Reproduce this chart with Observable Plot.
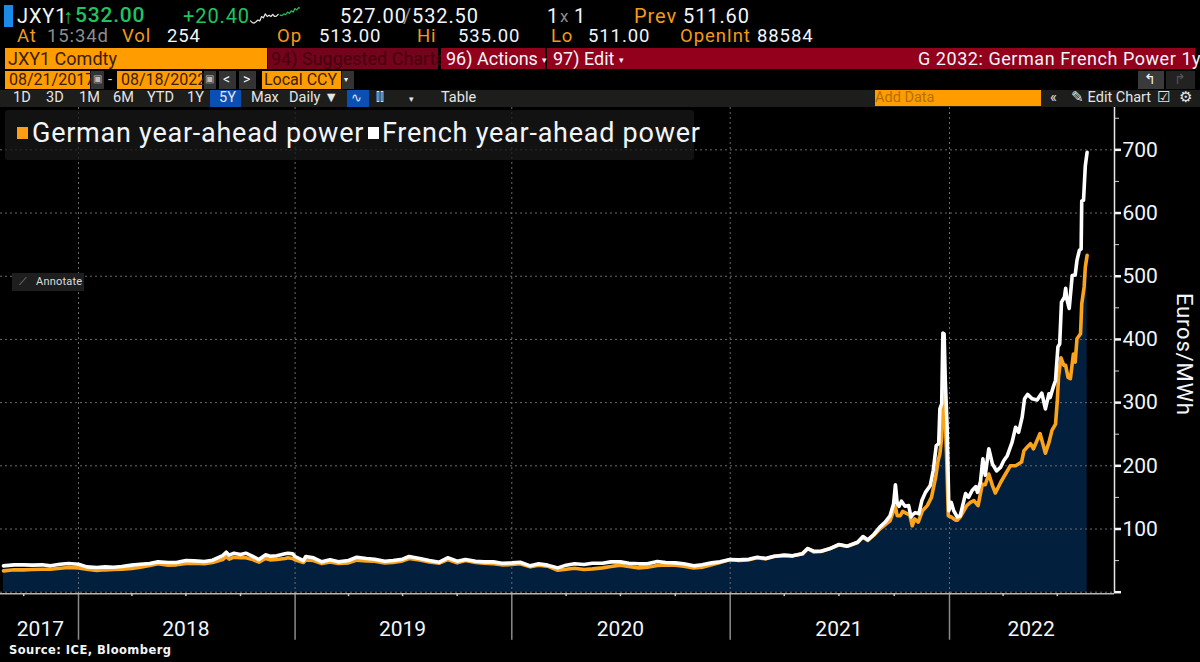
<!DOCTYPE html>
<html>
<head>
<meta charset="utf-8">
<script src="https://cdn.jsdelivr.net/npm/d3@7"></script>
<script src="https://cdn.jsdelivr.net/npm/@observablehq/plot@0.6"></script>
<style>
html,body{margin:0;padding:0;background:#000;width:1200px;height:662px;overflow:hidden}
#page{position:relative;width:1200px;height:662px;font-family:Roboto,"Noto Sans",sans-serif;color:#f2f6fa;overflow:hidden}
#chart{position:absolute;left:0;top:107px}
#chart svg{display:block}
.t{position:absolute;white-space:nowrap;line-height:1}
.r1{top:6px;font-size:20px;letter-spacing:.9px}.r2{top:27px;font-size:18.5px;letter-spacing:.9px}
.o{color:#f39a1a}.g{color:#1fc45f}.d{color:#8c8c8c}
.b{position:absolute}
.red{background:#93001c}
.or{background:#ff9d00;color:#3a2000}
.tab{position:absolute;top:91px;font-size:14.5px;color:#e6e6e6;line-height:1;white-space:nowrap}
</style>
</head>
<body>
<div id="page">
<div id="chart"></div>

<div class="b" style="left:4px;top:5px;width:9px;height:22px;background:#1a8be8"></div>
<span class="t r1" style="left:17px">JXY1</span>
<span class="t r1 g" style="left:63px">↑</span>
<span class="t g" style="left:75px;top:5px;font-size:21px;font-weight:500;letter-spacing:.8px">532.00</span>
<span class="t r1 g" style="left:183px">+20.40</span>
<div id="spark" style="position:absolute;left:250px;top:5px"></div>
<span class="t r1" style="left:340px">527.00</span>
<span class="t r1 d" style="left:403px">/</span>
<span class="t r1" style="left:412px">532.50</span>
<span class="t r1" style="left:547px">1</span>
<span class="t r1 d" style="left:560px;font-size:17px;top:8px">x</span>
<span class="t r1" style="left:574px">1</span>
<span class="t r1 o" style="left:634px">Prev</span>
<span class="t r1" style="left:683px">511.60</span>

<span class="t r2 o" style="left:17px">At</span>
<span class="t r2 d" style="left:47px">15:34d</span>
<span class="t r2 o" style="left:122px">Vol</span>
<span class="t r2" style="left:167px">254</span>
<span class="t r2 o" style="left:277px">Op</span>
<span class="t r2" style="left:319px">513.00</span>
<span class="t r2 o" style="left:417px">Hi</span>
<span class="t r2" style="left:458px">535.00</span>
<span class="t r2 o" style="left:551px">Lo</span>
<span class="t r2" style="left:588px">511.00</span>
<span class="t r2 o" style="left:680px">OpenInt</span>
<span class="t r2" style="left:757px">88584</span>

<div class="b or" style="left:5px;top:48px;width:262px;height:21px"></div>
<span class="t" style="left:8px;top:50px;font-size:18px;color:#3a2000">JXY1 Comdty</span>
<div class="b" style="left:268px;top:48px;width:170px;height:21px;background:#74041c"></div>
<span class="t" style="left:271px;top:50px;font-size:18px;color:#47000f">94) Suggested Charts</span>
<div class="b red" style="left:441px;top:48px;width:104px;height:21px"></div>
<span class="t" style="left:446px;top:50px;font-size:18px">96) Actions <span style="font-size:9px;vertical-align:2px">▾</span></span>
<div class="b red" style="left:547px;top:48px;width:648px;height:21px"></div>
<span class="t" style="left:553px;top:50px;font-size:18px">97) Edit <span style="font-size:9px;vertical-align:2px">▾</span></span>
<span class="t" style="left:918px;top:50px;font-size:18px;letter-spacing:.55px">G 2032: German French Power 1y</span>

<div class="b or" style="left:5px;top:71px;width:85px;height:18px"></div>
<span class="t" style="left:9px;top:72px;font-size:16px;color:#3a2000">08/21/2017</span>
<div class="b" style="left:91px;top:71px;width:13px;height:18px;background:#333"></div>
<span class="t" style="left:93px;top:74px;font-size:10px;color:#bbb">▣</span>
<span class="t" style="left:108px;top:72px;font-size:15px;color:#ddd">-</span>
<div class="b or" style="left:117px;top:71px;width:85px;height:18px"></div>
<span class="t" style="left:121px;top:72px;font-size:16px;color:#3a2000">08/18/2022</span>
<div class="b" style="left:204px;top:71px;width:12px;height:18px;background:#333"></div>
<span class="t" style="left:205px;top:74px;font-size:10px;color:#bbb">▣</span>
<div class="b" style="left:219px;top:71px;width:17px;height:18px;background:#333"></div>
<span class="t" style="left:223px;top:72px;font-size:14px">&lt;</span>
<div class="b" style="left:239px;top:71px;width:17px;height:18px;background:#333"></div>
<span class="t" style="left:243px;top:72px;font-size:14px">&gt;</span>
<div class="b or" style="left:262px;top:71px;width:79px;height:18px"></div>
<span class="t" style="left:264px;top:72px;font-size:16px;color:#3a2000">Local CCY</span>
<div class="b" style="left:342px;top:71px;width:12px;height:18px;background:#333"></div>
<span class="t" style="left:344px;top:76px;font-size:8px">▾</span>
<div class="b" style="left:1138px;top:71px;width:26px;height:18px;background:#3a3a3a"></div>
<span class="t" style="left:1144px;top:72px;font-size:14px">↰</span>
<div class="b" style="left:1166px;top:71px;width:29px;height:18px;background:#222"></div>
<span class="t" style="left:1174px;top:72px;font-size:14px;color:#555">↱</span>

<div class="b" style="left:0;top:90px;width:1200px;height:17px;background:#1d1d1b"></div>
<div class="b" style="left:210px;top:90px;width:31px;height:17px;background:#0a50b4"></div>
<div class="b" style="left:347px;top:90px;width:22px;height:17px;background:#0a50b4"></div>
<span class="tab" style="left:13px">1D</span>
<span class="tab" style="left:46px">3D</span>
<span class="tab" style="left:79px">1M</span>
<span class="tab" style="left:113px">6M</span>
<span class="tab" style="left:147px">YTD</span>
<span class="tab" style="left:187px">1Y</span>
<span class="tab" style="left:219px">5Y</span>
<span class="tab" style="left:251px">Max</span>
<span class="tab" style="left:289px">Daily ▼</span>
<span class="tab" style="left:351px;font-size:13px">∿</span>
<span class="tab" style="left:376px;font-size:12px">⫿⫿</span>
<span class="tab" style="left:409px;font-size:9px;top:95px">▾</span>
<span class="tab" style="left:441px">Table</span>
<div class="b or" style="left:875px;top:90px;width:166px;height:16px"></div>
<span class="tab" style="left:875px;color:#b36f00">Add Data</span>
<span class="tab" style="left:1050px">«</span>
<span class="tab" style="left:1071px">✎ Edit Chart</span>
<span class="tab" style="left:1157px">☑</span>
<span class="tab" style="left:1179px">⚙</span>

<div class="b" style="left:5px;top:110px;width:689px;height:50px;background:rgba(24,24,24,.75);border-radius:3px"></div>
<div class="b" style="left:17px;top:127px;width:11px;height:12px;background:#ff9d14"></div>
<span class="t" style="left:32px;top:120px;font-size:27px;letter-spacing:.75px">German year-ahead power</span>
<div class="b" style="left:368px;top:127px;width:11px;height:12px;background:#fff"></div>
<span class="t" style="left:382px;top:120px;font-size:27px;letter-spacing:.75px">French year-ahead power</span>

<div class="b" style="left:12px;top:273px;width:72px;height:18px;background:#1e1e1e"></div>
<span class="t d" style="left:19px;top:276px;font-size:11px">⟋</span>
<span class="t" style="left:36px;top:276px;font-size:11px;color:#ddd;letter-spacing:.2px">Annotate</span>

<span class="t" style="left:1183px;top:293px;font-size:22px;letter-spacing:.8px;transform-origin:0 0;transform:translateX(12px) rotate(90deg)">Euros/MWh</span>
<span class="t" style="left:9px;top:645px;font-size:11.5px;font-weight:700;font-family:'DejaVu Sans';letter-spacing:.45px">Source: ICE, Bloomberg</span>
</div>

<script>
// Monthly-ish readings up to late summer 2021 (EUR/MWh)
const earlyDates = ["2017-08-28","2017-09-15","2017-10-01","2017-10-15","2017-11-01","2017-11-15","2017-12-01","2017-12-15","2018-01-01","2018-01-15","2018-02-01","2018-02-15","2018-03-01","2018-03-15","2018-04-01","2018-04-15","2018-05-01","2018-05-15","2018-06-01","2018-06-15","2018-07-01","2018-07-15","2018-08-01","2018-08-15","2018-09-01","2018-09-07","2018-09-12","2018-09-20","2018-10-01","2018-10-10","2018-10-20","2018-11-01","2018-11-12","2018-11-20","2018-12-01","2018-12-15","2018-12-20","2018-12-28","2019-01-01","2019-01-15","2019-01-19","2019-02-01","2019-02-15","2019-03-01","2019-03-15","2019-04-01","2019-04-15","2019-05-01","2019-05-15","2019-06-01","2019-06-15","2019-07-01","2019-07-12","2019-08-01","2019-08-15","2019-09-01","2019-09-15","2019-10-01","2019-10-15","2019-11-01","2019-11-15","2019-12-01","2019-12-15","2020-01-01","2020-01-15","2020-02-01","2020-02-15","2020-03-01","2020-03-18","2020-04-01","2020-04-15","2020-05-01","2020-05-15","2020-06-01","2020-06-15","2020-07-01","2020-07-15","2020-08-01","2020-08-15","2020-09-01","2020-09-15","2020-10-01","2020-10-15","2020-11-01","2020-11-15","2020-12-01","2020-12-15","2021-01-01","2021-01-15","2021-02-01","2021-02-15","2021-03-01","2021-03-15","2021-04-01","2021-04-15","2021-05-01","2021-05-10","2021-05-20","2021-06-01","2021-06-15","2021-07-01","2021-07-15","2021-08-01","2021-08-10","2021-08-18","2021-08-28"];
const earlyFrench = [41.7,43.3,43.3,42.8,43.3,41.7,44.3,45.4,44.3,40.1,39,40.1,39.6,40.6,42.8,44.3,45.4,48,47,47,50.1,49.6,48.6,50.7,58,63.3,58.6,61.7,59.6,61.7,57.5,51.7,59.1,57,57.5,60.7,61.7,60.7,56.5,50.1,56.5,54.4,48,51.2,48,50.1,55.4,53.3,52.2,49.1,50.1,52.2,56.5,52.8,50.1,47.5,54.4,49.1,51.7,49.1,48,48,45.9,46.4,47.5,41.7,44.9,42.8,38.5,42.8,44.9,43.8,45.9,45.9,48,48,45.9,44.9,44.9,48.6,47,46.4,44.9,41.7,43.3,46.4,48,51.7,51.2,52.2,55.4,53.3,57,58,57.5,60.7,69.1,64.9,64.9,68.6,75.5,72.8,79.1,88.1,82.8,91.3];
const earlyGerman = [33.8,35.4,35.4,35.9,36.4,36.4,38,39,38.5,36.4,34.3,35.4,35.9,36.4,37.5,39.6,42.2,44.9,42.8,43.3,45.4,45.9,44.9,47,51.7,56.5,52.2,55.4,54.4,54.4,52.2,47.5,53.3,51.2,51.7,53.3,54.4,53.3,51.2,47,51.2,50.1,45.4,48,45.4,46.4,50.7,49.6,49.1,46.4,47,49.6,53.3,50.7,48,45.9,51.7,46.4,50.1,47,45.9,44.9,43.3,43.8,44.9,40.1,42.8,41.2,34.8,36.4,38,35.9,36.9,38.5,40.6,42.8,40.6,38.5,39.6,42.2,43.3,42.8,41.2,38.5,39.6,43.3,46.9,51.7,50.1,51.2,54.4,52.8,56.5,59.1,57.5,60.7,69.1,63.8,64.4,68.6,74.9,72.8,78.6,87,81.8,90.2];

// Later readings: day offsets from 1 Jan 2022, then EUR/MWh
const frenchLateDays = [-116,-107,-99,-93,-90,-87,-84,-80,-74,-68,-64,-62,-57,-51,-46,-40,-32,-27,-22,-18,-16,-13,-11,-9,-7,-4,-1,3,7,13,18,27,32,38,44,47,52,56,60,66,72,79,86,91,97,105,111,116,122,126,131,139,147,155,161,167,169,174,178,182,185,188,193,195,197,201,206,211,214,218,221,222,225,228,231];
const frenchLate = [103,111,121,140,170,140,136,144,136,137,119,122,126,124,145,158,169,193,232,235,290,298,410,409,335,264,129,142,129,119,121,156,150,161,167,158,175,211,185,227,203,192,198,208,216,237,261,253,277,306,313,306,304,315,290,314,308,324,335,388,393,459,467,481,464,449,501,502,525,541,543,619,620,675,696];
const germanLateDays = [-116,-99,-93,-90,-87,-82,-78,-70,-66,-62,-58,-52,-45,-37,-30,-23,-19,-16,-13,-10,-7,-5,-2,3,10,13,18,29,35,41,48,55,60,66,72,77,86,94,102,111,121,125,131,136,141,152,161,167,172,178,181,183,187,192,195,199,203,208,211,214,220,222,226,228,231];
const germanLate = [100,113,129,135,121,121,128,124,122,105,116,111,129,137,150,182,208,219,245,330,272,222,121,119,114,114,119,137,142,145,137,171,170,187,169,157,174,187,200,200,206,224,230,235,227,251,220,237,256,266,303,340,371,359,359,340,338,377,364,401,409,456,483,514,533];

// Header sparkline readings
const sparkOld = [3,2.2,2,2.6,3.4,3,5,4.4,6.2,5,5.6,5,6,5,5.2,6];
const sparkNew = [5.6,5.4,6.2,5.8,7,6.4,7.6,7,8.6,8,9,8.8];

// Axes
const yearStarts = ["2018-01-01","2019-01-01","2020-01-01","2021-01-01","2022-01-01"];
const quarterTicks = ["2017-10-01","2018-04-01","2018-07-01","2018-10-01","2019-04-01","2019-07-01","2019-10-01","2020-04-01","2020-07-01","2020-10-01","2021-04-01","2021-07-01","2021-10-01","2022-04-01","2022-07-01"];
const yearLabels = ["2017","2018","2019","2020","2021","2022"];
const yearLabelDates = ["2017-10-29","2018-07-01","2019-07-01","2020-07-01","2021-07-01","2022-05-18"];
const majorY = [100,200,300,400,500,600,700];
const minorY = [50,150,250,350,450,550,650,750];

const parse = d3.utcParse("%Y-%m-%d");
const jan2022 = parse("2022-01-01");
const offset = n => d3.utcDay.offset(jan2022, n);
const series = (dates, vals) => dates.map((d, i) => ({date: d, value: vals[i]}));
const german = series(earlyDates.map(parse).concat(germanLateDays.map(offset)), earlyGerman.concat(germanLate));
const french = series(earlyDates.map(parse).concat(frenchLateDays.map(offset)), earlyFrench.concat(frenchLate));
const yearDates = yearStarts.map(parse);
const labels = yearLabels.map((t, i) => ({t, date: parse(yearLabelDates[i])}));
const axisEnd = parse("2022-10-05");

const gridStyle = {stroke: "#6a6a6a", strokeWidth: 1, strokeDasharray: "2,3"};
const chart = Plot.plot({
  width: 1200, height: 555,
  marginTop: 0, marginLeft: 0, marginRight: 86, marginBottom: 70,
  style: {background: "transparent", color: "#f2f6fa", fontFamily: 'Roboto,"Noto Sans",sans-serif', overflow: "visible"},
  x: {type: "utc", domain: [parse("2017-08-23"), ...yearDates, axisEnd], range: [0, 78, 294.6, 511.3, 729.7, 949, 1114], axis: null},
  y: {domain: [0, 767], range: [484.7, 0], axis: null},
  marks: [
    Plot.areaY(german, {x: "date", y: "value", fill: "#02203e", curve: "linear"}),
    Plot.ruleY([0].concat(majorY), {...gridStyle}),
    Plot.ruleX(yearDates, {...gridStyle}),
    Plot.ruleX(yearDates, {y1: 0, y2: -76, stroke: "#8a8a8a", strokeWidth: 1.5, clip: false}),
    Plot.ruleY([-2.6], {stroke: "#b5b5b5", strokeWidth: 1.5}),
    Plot.ruleX(quarterTicks.map(parse), {y1: -2.6, y2: -7, stroke: "#c8c8c8", strokeWidth: 1.5}),
    Plot.lineY(german, {x: "date", y: "value", stroke: "#fba31c", strokeWidth: 3.6, strokeLinejoin: "round"}),
    Plot.lineY(french, {x: "date", y: "value", stroke: "#ffffff", strokeWidth: 3.6, strokeLinejoin: "round"}),
    Plot.ruleX([axisEnd], {y1: -3, y2: 767, stroke: "#e6e6e6", strokeWidth: 1.5}),
    Plot.axisY([0].concat(majorY), {anchor: "right", tickSize: 6, tickPadding: 2, fontSize: 21, strokeWidth: 2.5, stroke: "#f2f6fa", tickFormat: d => d === 0 ? "" : d, label: null}),
    Plot.axisY(minorY, {anchor: "right", tickSize: 4, tickFormat: () => "", label: null, stroke: "#cfcfcf"}),
    Plot.text(labels, {x: "date", y: -59, text: "t", fontSize: 21, fill: "#f2f6fa"})
  ]
});
document.getElementById("chart").appendChild(chart);

const spark = Plot.plot({
  width: 50, height: 22, margin: 0,
  style: {background: "transparent"},
  x: {axis: null, domain: [0, 27]}, y: {axis: null, domain: [0, 10], range: [22, 0]},
  marks: [
    Plot.lineY(sparkOld, {x: (d, i) => i, y: d => d, stroke: "#e8e8e8", strokeWidth: 1.2}),
    Plot.lineY(sparkNew, {x: (d, i) => i + 16, y: d => d, stroke: "#1fc45f", strokeWidth: 1.2})
  ]
});
document.getElementById("spark").appendChild(spark);
</script>
</body>
</html>
